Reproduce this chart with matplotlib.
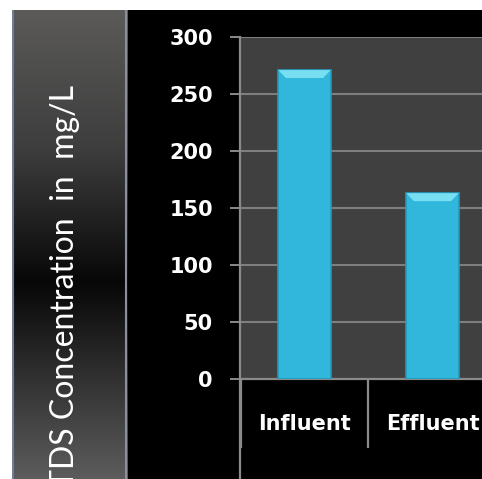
import matplotlib
matplotlib.use("Agg")
import matplotlib.pyplot as plt
import numpy as np
from matplotlib.patches import Rectangle, Polygon
from matplotlib.colors import LinearSegmentedColormap

categories = ["Influent", "Effluent"]
tds_values = [271, 163]
y_ticks = [0, 50, 100, 150, 200, 250, 300]

W, H = 482, 479
fig = plt.figure(figsize=(W / 100, H / 100), dpi=100, facecolor="white")

def fx(px):
    return px / W

def fy(py):
    return 1 - py / H

# black backdrop behind the chart
fig.patches.append(Rectangle((fx(128), 0), 1 - fx(128), fy(10), transform=fig.transFigure,
                             facecolor="black", edgecolor="none", zorder=-5))

# shaded side panel holding the axis title
panel = fig.add_axes([fx(12), 0, fx(128) - fx(12), fy(10)], zorder=1)
panel_cmap = LinearSegmentedColormap.from_list(
    "panel", [(0.0, "#5b5a59"), (0.30, "#3d3d3d"), (0.58, "#070707"),
              (0.82, "#383838"), (1.0, "#5c5c5c")])
grad = np.linspace(0, 1, 256).reshape(-1, 1)
panel.imshow(grad, aspect="auto", cmap=panel_cmap, extent=[0, 1, 0, 1], origin="upper")
panel.set_xlim(0, 1)
panel.set_ylim(0, 1)
panel.axis("off")
panel.plot([0.005, 0.005], [0, 1], color="#6f7f95", lw=1.5)
panel.plot([0.985, 0.985], [0, 1], color="#8a8f98", lw=1.5)

fig.text(fx(65), fy(85), "TDS Concentration  in  mg/L", rotation=90, ha="center", va="top",
         color="white", fontsize=23, family="Lato", zorder=5)

# plot area
ax = fig.add_axes([fx(240), fy(379), 1 - fx(240), fy(37) - fy(379)], zorder=2)
ax.set_facecolor("#404040")
x = np.arange(len(categories))
bar_w = 0.41

ax.set_yticks(y_ticks)
ax.yaxis.grid(True, color="#7e7e7e", lw=1.5, zorder=1)
ax.set_axisbelow(True)

bar_color = "#31b7dc"
ax.bar(x, tds_values, width=bar_w, color=bar_color, edgecolor="#2199bd", lw=1.2, zorder=3)
# bevelled caps on the bars
cap_h = 7
inset = 0.06
for xi, v in zip(x, tds_values):
    cap = Polygon([(xi - bar_w / 2, v), (xi + bar_w / 2, v),
                   (xi + bar_w / 2 - inset, v - cap_h), (xi - bar_w / 2 + inset, v - cap_h)],
                  closed=True, facecolor="#78dff2", edgecolor="none", zorder=4)
    ax.add_patch(cap)

for s in ["top", "right"]:
    ax.spines[s].set_visible(False)
ax.spines["left"].set_color("#8a8a8a")
ax.spines["bottom"].set_color("#8a8a8a")
ax.spines["left"].set_linewidth(1.6)
ax.spines["bottom"].set_linewidth(1.6)

ax.tick_params(axis="y", colors="#8a8a8a", length=7.5, width=1.4, pad=12,
               labelcolor="white", labelsize=15)
for lbl in ax.get_yticklabels():
    lbl.set_fontweight("bold")
    lbl.set_family("DejaVu Sans")

ax.set_xticks(x)
ax.set_xticklabels(categories, color="white", fontsize=15, fontweight="bold", family="DejaVu Sans")
ax.set_xticks(np.arange(len(categories) + 1) - 0.5, minor=True)
ax.tick_params(axis="x", which="major", length=0, pad=25)
ax.tick_params(axis="x", which="minor", length=50, width=1.6, colors="#8a8a8a")

# view limits are set after the ticks so the tick positions do not widen them
ax.set_xlim(-0.504, 1.387)
ax.set_ylim(0, 300)

# outer border of the category axis
ax.plot([0, 0], [0, -0.3], transform=ax.transAxes, color="#8a8a8a", lw=1.6, clip_on=False)

fig.savefig("out.png", dpi=100, facecolor="white")
